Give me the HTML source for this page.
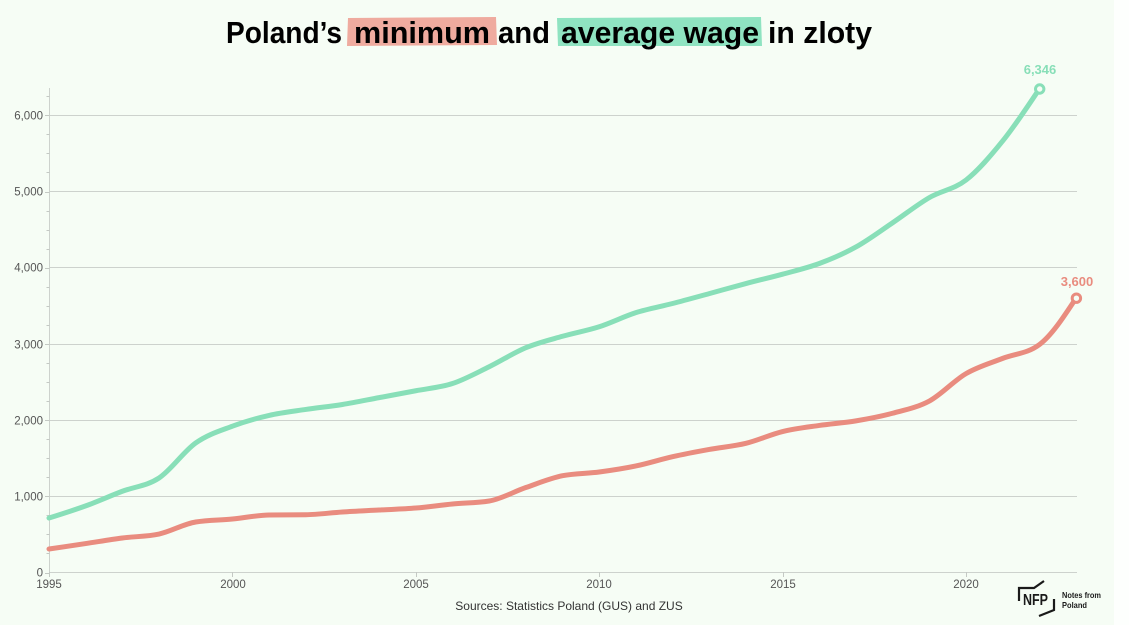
<!DOCTYPE html>
<html>
<head>
<meta charset="utf-8">
<style>
  html,body{margin:0;padding:0;}
  body{width:1129px;height:625px;overflow:hidden;background:#ffffff;}
  svg{display:block;}
  text{font-family:"Liberation Sans",sans-serif;}
</style>
</head>
<body>
<svg id="chart" width="1129" height="625" viewBox="0 0 1129 625" xmlns="http://www.w3.org/2000/svg">
  <rect x="0" y="0" width="1114" height="625" fill="#f6fdf5"/>
  <rect x="1114" y="0" width="15" height="625" fill="#fdfffd"/>

  <!-- Title -->
  <path d="M348 18 L496 17 L497 45 L347 46 Z" fill="#efab9f"/>
  <path d="M557 18 L761 17 L762 46 L558 46 Z" fill="#8fe3c1"/>
  <g font-size="31" font-weight="bold" fill="#000">
    <text x="226" y="43" textLength="116" lengthAdjust="spacingAndGlyphs">Poland’s</text>
    <text x="354" y="43" textLength="136" lengthAdjust="spacingAndGlyphs">minimum</text>
    <text x="498" y="43" textLength="52" lengthAdjust="spacingAndGlyphs">and</text>
    <text x="561" y="43" textLength="198" lengthAdjust="spacingAndGlyphs">average wage</text>
    <text x="768" y="43" textLength="104" lengthAdjust="spacingAndGlyphs">in zloty</text>
  </g>

  <!-- Gridlines -->
  <g stroke="#cdd2cd" stroke-width="1">
    <line x1="49" y1="496.5" x2="1077" y2="496.5"/>
    <line x1="49" y1="420.5" x2="1077" y2="420.5"/>
    <line x1="49" y1="344.5" x2="1077" y2="344.5"/>
    <line x1="49" y1="267.5" x2="1077" y2="267.5"/>
    <line x1="49" y1="191.5" x2="1077" y2="191.5"/>
    <line x1="49" y1="115.5" x2="1077" y2="115.5"/>
    <line x1="49" y1="572.5" x2="1077" y2="572.5"/>
  </g>
  <!-- Y axis -->
  <line x1="49.5" y1="88" x2="49.5" y2="573" stroke="#cdd2cd" stroke-width="1"/>
  <g id="yticks" stroke="#c4c9c4" stroke-width="1"></g>
  <g font-size="11.5" fill="#555" text-anchor="end">
    <text x="43" y="576.5">0</text>
    <text x="43" y="500.5">1,000</text>
    <text x="43" y="424.5">2,000</text>
    <text x="43" y="348.5">3,000</text>
    <text x="43" y="271.5">4,000</text>
    <text x="43" y="195.5">5,000</text>
    <text x="43" y="119.5">6,000</text>
  </g>
  <!-- X axis ticks & labels -->
  <g stroke="#c4c9c4" stroke-width="1">
    <line x1="49.5" y1="572" x2="49.5" y2="577"/>
    <line x1="232.5" y1="572" x2="232.5" y2="577"/>
    <line x1="416.5" y1="572" x2="416.5" y2="577"/>
    <line x1="599.5" y1="572" x2="599.5" y2="577"/>
    <line x1="783.5" y1="572" x2="783.5" y2="577"/>
    <line x1="966.5" y1="572" x2="966.5" y2="577"/>
  </g>
  <g font-size="11.5" fill="#555" text-anchor="middle">
    <text x="49" y="588">1995</text>
    <text x="233" y="588">2000</text>
    <text x="416" y="588">2005</text>
    <text x="599" y="588">2010</text>
    <text x="783" y="588">2015</text>
    <text x="966" y="588">2020</text>
  </g>
  <text x="569" y="610" font-size="12" fill="#333" text-anchor="middle">Sources: Statistics Poland (GUS) and ZUS</text>

  <!-- Series -->
  <path id="green" d="" fill="none" stroke="#88dfb8" stroke-width="5" stroke-linecap="round" stroke-linejoin="round"/>
  <path id="red" d="" fill="none" stroke="#e98c7f" stroke-width="5" stroke-linecap="round" stroke-linejoin="round"/>
  <circle cx="1039.7" cy="89" r="4.2" fill="#f6fdf5" stroke="#88dfb8" stroke-width="3"/>
  <circle cx="1076.4" cy="298.2" r="4.2" fill="#f6fdf5" stroke="#e98c7f" stroke-width="3"/>
  <text x="1040" y="74" font-size="13" font-weight="bold" fill="#88dfb8" text-anchor="middle">6,346</text>
  <text x="1077" y="286" font-size="13" font-weight="bold" fill="#e98c7f" text-anchor="middle">3,600</text>

  <!-- Logo -->
  <g fill="none" stroke="#1a1a1a" stroke-width="2.2">
    <path d="M1019 601 L1019 588 L1034 588 L1044 581"/>
    <path d="M1054 599 L1054 610 L1039 616"/>
  </g>
  <text x="1023" y="605" font-size="16" font-weight="bold" fill="#1a1a1a" textLength="25" lengthAdjust="spacingAndGlyphs">NFP</text>
  <text x="1062" y="598" font-size="8.5" font-weight="bold" fill="#1a1a1a" textLength="39" lengthAdjust="spacingAndGlyphs">Notes from</text>
  <text x="1062" y="608" font-size="8.5" font-weight="bold" fill="#1a1a1a" textLength="25" lengthAdjust="spacingAndGlyphs">Poland</text>
</svg>
<script>
(function(){
  var X0=49, DX=36.68, Y0=572.5, K=0.0762;
  function px(i){return X0+i*DX;}
  function py(v){return Y0-v*K;}
  var green=[715,874,1066,1240,1700,1920,2062,2140,2205,2295,2385,2480,2700,2950,3100,3225,3410,3530,3660,3792,3915,4055,4272,4590,4920,5150,5663,6346];
  var red=[308,380,453,505,663,702,755,758,794,820,846,899,938,1115,1270,1319,1398,1520,1615,1695,1850,1930,1990,2090,2250,2610,2810,2990,3600];
  function monotone(pts){
    var n=pts.length, i, d=[], m=[];
    for(i=0;i<n-1;i++){d.push((pts[i+1][1]-pts[i][1])/(pts[i+1][0]-pts[i][0]));}
    m[0]=d[0]; m[n-1]=d[n-2];
    for(i=1;i<n-1;i++){
      if(d[i-1]*d[i]<=0){m[i]=0;}
      else{
        var h0=pts[i][0]-pts[i-1][0], h1=pts[i+1][0]-pts[i][0];
        var p=(d[i-1]*h1+d[i]*h0)/(h0+h1);
        var s=Math.sign(d[i-1])+Math.sign(d[i]);
        m[i]=s*Math.min(Math.abs(d[i-1]),Math.abs(d[i]),0.5*Math.abs(p));
      }
    }
    if(n>2){
      m[0]=(3*d[0]-m[1])/2;
      m[n-1]=(3*d[n-2]-m[n-2])/2;
    }
    var s="M"+pts[0][0].toFixed(2)+","+pts[0][1].toFixed(2);
    for(i=0;i<n-1;i++){
      var dx=(pts[i+1][0]-pts[i][0])/3;
      s+="C"+(pts[i][0]+dx).toFixed(2)+","+(pts[i][1]+m[i]*dx).toFixed(2)+" "+
         (pts[i+1][0]-dx).toFixed(2)+","+(pts[i+1][1]-m[i+1]*dx).toFixed(2)+" "+
         pts[i+1][0].toFixed(2)+","+pts[i+1][1].toFixed(2);
    }
    return s;
  }
  function toPts(arr){var r=[];for(var i=0;i<arr.length;i++){r.push([px(i),py(arr[i])]);}return r;}
  document.getElementById("green").setAttribute("d",monotone(toPts(green)));
  document.getElementById("red").setAttribute("d",monotone(toPts(red)));
  var g=document.getElementById("yticks"), ns="http://www.w3.org/2000/svg";
  for(var v=0; v<=6250; v+=250){
    var y=Math.round(py(v))+0.5;
    var major=(v%1000===0);
    var l=document.createElementNS(ns,"line");
    l.setAttribute("x1", major?45:46.5);
    l.setAttribute("x2", 49.5);
    l.setAttribute("y1", y); l.setAttribute("y2", y);
    g.appendChild(l);
  }
})();
</script>
</body>
</html>
